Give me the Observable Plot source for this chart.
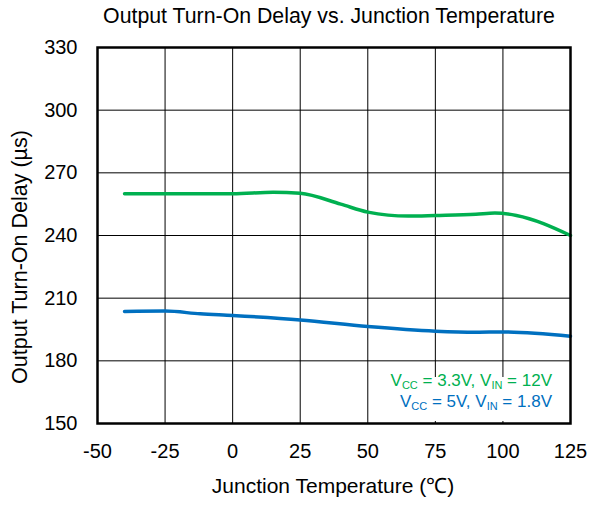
<!DOCTYPE html>
<html><head><meta charset="utf-8">
<script src="https://cdn.jsdelivr.net/npm/d3@7"></script>
<script src="https://cdn.jsdelivr.net/npm/@observablehq/plot@0.6"></script>
<style>
body{margin:0;background:#fff;font-family:"Liberation Sans",Arial,sans-serif;}
#wrap{position:relative;width:598px;height:507px;}
#title{position:absolute;left:0;top:6px;width:658px;text-align:center;font-size:21.3px;line-height:21px;color:#000;white-space:nowrap;}
#chart{position:absolute;left:0;top:35px;}
</style></head>
<body><div id="wrap"><div id="title">Output Turn-On Delay vs. Junction Temperature</div><div id="chart"></div></div>
<script>
const greenT = [-40, -25, 0, 15, 25, 40, 50, 65, 75, 90, 97, 105, 125];
const greenV = [260, 260, 260, 260.7, 260.2, 255, 251.2, 249.3, 249.6, 250.2, 250.8, 249.6, 240];
const blueT = [-40, -25, -12, 0, 25, 50, 75, 90, 100, 125];
const blueV = [203.6, 203.8, 202.5, 201.7, 199.6, 196.4, 194.2, 193.7, 193.8, 191.8];
const xTicks = [-50, -25, 0, 25, 50, 75, 100, 125];
const yTicks = [150, 180, 210, 240, 270, 300, 330];
const green = greenT.map((t, i) => ({t, v: greenV[i]}));
const blue = blueT.map((t, i) => ({t, v: blueV[i]}));

const plot = Plot.plot({
  width: 598, height: 472,
  marginLeft: 97, marginRight: 28, marginTop: 12, marginBottom: 84,
  style: {fontFamily: "Liberation Sans, Arial, sans-serif", fontSize: "20px", color: "#000", background: "#fff", overflow: "visible"},
  x: {domain: [-50, 125], label: null},
  y: {domain: [150, 330], label: null},
  marks: [
    Plot.gridX(xTicks, {stroke: "#000", strokeOpacity: 1, strokeWidth: 1}),
    Plot.gridY(yTicks, {stroke: "#000", strokeOpacity: 1, strokeWidth: 1}),
    Plot.axisX({ticks: xTicks, tickSize: 0, tickPadding: 20, fontSize: 20, tickFormat: d => d, label: null}),
    Plot.axisY({ticks: yTicks, tickSize: 0, tickPadding: 20, fontSize: 20, label: null}),
    Plot.line(green, {x: "t", y: "v", stroke: "#00b050", strokeWidth: 3.5, curve: "monotone-x"}),
    Plot.line(blue, {x: "t", y: "v", stroke: "#0070c0", strokeWidth: 3.5, curve: "monotone-x"}),
    Plot.frame({stroke: "#000", strokeWidth: 2.5})
  ]
});
document.getElementById("chart").appendChild(plot);
const svg = d3.select(plot);
svg.append("text").attr("x", 333).attr("y", 458).attr("text-anchor", "middle")
  .attr("font-size", 21).attr("fill", "#000").text("Junction Temperature (℃)");
svg.append("text").attr("transform", "translate(27,222) rotate(-90)").attr("text-anchor", "middle")
  .attr("font-size", 21.5).attr("fill", "#000").text("Output Turn-On Delay (µs)");
// legend box (white background covering the grid)
svg.append("rect").attr("x", 378).attr("y", 342).attr("width", 189).attr("height", 44).attr("fill", "#fff");
function legend(y, color, parts) {
  const t = svg.append("text").attr("x", 552).attr("y", y).attr("text-anchor", "end")
    .attr("font-size", 17).attr("fill", color);
  parts.forEach(p => {
    const s = t.append("tspan").text(p[0]);
    if (p[1]) s.attr("font-size", 11).attr("dy", 3); else s.attr("dy", p[2] || 0);
  });
}
legend(351, "#00b050", [["V"], ["CC", true], [" = 3.3V, V", false, -3], ["IN", true], [" = 12V", false, -3]]);
legend(372, "#0070c0", [["V"], ["CC", true], [" = 5V, V", false, -3], ["IN", true], [" = 1.8V", false, -3]]);
</script></body></html>
